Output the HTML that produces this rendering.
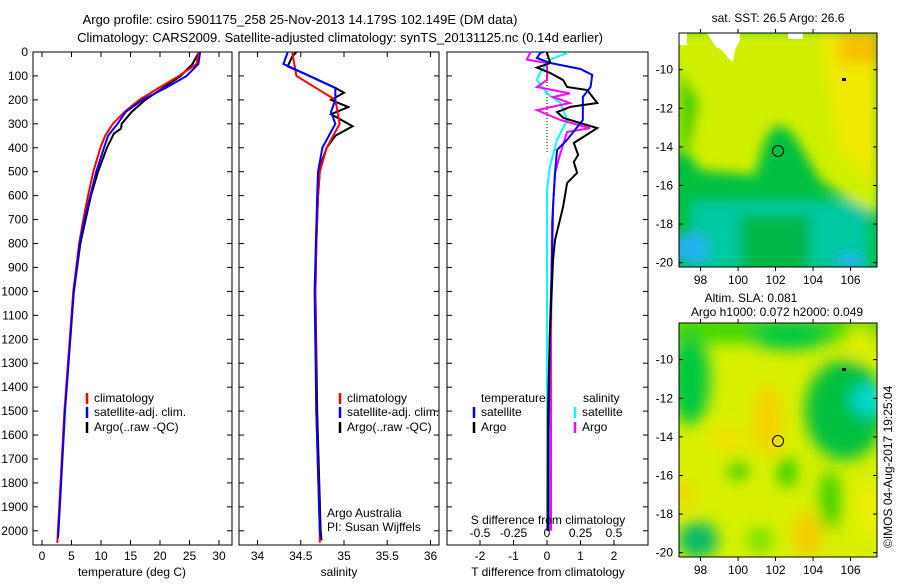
<!DOCTYPE html>
<html><head><meta charset="utf-8"><style>
body{margin:0;background:#fff;width:900px;height:580px;overflow:hidden}
svg{font-family:"Liberation Sans",sans-serif;font-size:12px}
</style></head><body>
<svg id="fig" width="900" height="580" viewBox="0 0 900 580">
<defs>
<filter id="bl" x="-20%" y="-20%" width="140%" height="140%"><feGaussianBlur stdDeviation="6"/></filter>
<filter id="bl2" x="-20%" y="-20%" width="140%" height="140%"><feGaussianBlur stdDeviation="8"/></filter>
<clipPath id="c1"><rect x="679" y="33" width="198" height="234"/></clipPath>
<clipPath id="c2"><rect x="679" y="323" width="198" height="234"/></clipPath>
</defs>
<text x="300" y="24" text-anchor="middle" font-size="13">Argo profile: csiro 5901175_258 25-Nov-2013 14.179S 102.149E (DM data)</text>
<text x="340" y="42" text-anchor="middle" font-size="13">Climatology: CARS2009. Satellite-adjusted climatology: synTS_20131125.nc (0.14d earlier)</text>

<!-- top map -->
<g clip-path="url(#c1)">
<rect x="679" y="33" width="198" height="234" fill="#00c040"/>
<g filter="url(#bl)">
<rect x="690" y="200" width="180" height="70" fill="#00c8a0"/>
<rect x="740" y="215" width="70" height="55" fill="#00b848"/>
<ellipse cx="690" cy="248" rx="20" ry="16" fill="#20b0f0"/>
<ellipse cx="850" cy="262" rx="15" ry="8" fill="#20b0f0"/>
<polygon points="670,30 880,30 880,215 850,200 820,180 800,145 790,130 775,125 765,140 755,175 700,170 690,155 670,150" fill="#d0f000"/>
<polygon points="820,30 880,30 880,190 840,150 830,90" fill="#f0e800"/>
<rect x="840" y="33" width="40" height="30" fill="#f8c000"/>
<polygon points="679,70 700,100 690,150 679,150" fill="#30d000"/>
</g>
<rect x="679" y="33" width="8" height="12" fill="#fff"/>
<polygon points="707,33 740,33 740,40 735,50 733,62 728,58 722,50 716,47" fill="#fff"/>
<rect x="788" y="33" width="15" height="6" fill="#fff"/>
</g>
<rect x="679" y="33" width="198" height="234" fill="none" stroke="#000"/>
<circle cx="778" cy="151" r="5.5" fill="none" stroke="#000"/>
<rect x="842" y="78" width="4" height="3" fill="#000"/>
<text x="778" y="22" text-anchor="middle">sat. SST: 26.5 Argo: 26.6</text>

<!-- bottom map -->
<g clip-path="url(#c2)">
<rect x="679" y="323" width="198" height="234" fill="#d8f000"/>
<g filter="url(#bl2)">
<rect x="670" y="315" width="220" height="28" fill="#40d800"/>
<ellipse cx="690" cy="380" rx="20" ry="45" fill="#00c840"/>
<ellipse cx="790" cy="335" rx="40" ry="15" fill="#00c840"/>
<ellipse cx="845" cy="410" rx="40" ry="50" fill="#00c040"/>
<ellipse cx="860" cy="340" rx="15" ry="14" fill="#e0f000"/>
<ellipse cx="868" cy="400" rx="16" ry="16" fill="#00d8d8"/>
<ellipse cx="768" cy="420" rx="14" ry="35" fill="#f8d000"/>
<ellipse cx="730" cy="440" rx="20" ry="12" fill="#f0e000"/>
<ellipse cx="808" cy="535" rx="14" ry="22" fill="#f8c800"/>
<ellipse cx="684" cy="495" rx="10" ry="15" fill="#f0d800"/>
<ellipse cx="870" cy="510" rx="10" ry="25" fill="#f0f000"/>
<ellipse cx="698" cy="540" rx="20" ry="18" fill="#00b870"/>
<ellipse cx="738" cy="470" rx="9" ry="9" fill="#00c800"/>
<ellipse cx="787" cy="472" rx="8" ry="15" fill="#00c800"/>
<ellipse cx="830" cy="500" rx="10" ry="30" fill="#30d000"/>
<ellipse cx="760" cy="540" rx="12" ry="12" fill="#60e000"/>
</g>
</g>
<rect x="679" y="323" width="198" height="234" fill="none" stroke="#000"/>
<circle cx="778" cy="441" r="5.5" fill="none" stroke="#000"/>
<rect x="842" y="368" width="4" height="3" fill="#000"/>
<text x="751" y="302" text-anchor="middle">Altim. SLA: 0.081</text>
<text x="777" y="316" text-anchor="middle">Argo h1000: 0.072 h2000: 0.049</text>
<text transform="translate(892,548) rotate(-90)">©IMOS 04-Aug-2017 19:25:04</text>

<g id="plots"></g>
</svg>
<script>
// ---- data ----
const depthTicks=[0,100,200,300,400,500,600,700,800,900,1000,1100,1200,1300,1400,1500,1600,1700,1800,1900,2000];
const tempTicks=[0,5,10,15,20,25,30];
const salTicks=[34,34.5,35,35.5,36];
const salTickLabels=["34","34.5","35","35.5","36"];
const tdTicks=[-2,-1,0,1,2];
const sdTicks=[-0.5,-0.25,0,0.25,0.5];
const sdTickLabels=["-0.5","-0.25","0","0.25","0.5"];
const latTicks=[-10,-12,-14,-16,-18,-20];
const lonTicks=[98,100,102,104,106];

const tClimDepth=[0,50,100,150,200,250,300,350,400,500,600,700,800,1000,1500,2000,2050];
const tClim=[26.5,26.2,23.2,19.8,16.5,14.0,12.0,10.7,9.9,8.7,7.8,7.0,6.3,5.3,3.8,2.7,2.6];
const tSatDepth=[0,50,100,150,200,250,300,350,400,500,600,700,800,1000,1500,2000,2030];
const tSat=[26.8,26.5,24.5,21,17,14.2,12.8,11.2,10.5,9.2,8.2,7.2,6.4,5.4,3.9,2.8,2.7];
const tArgoDepth=[0,50,100,150,200,250,300,320,340,400,500,600,700,800,1000];
const tArgo=[26.6,25.5,23.5,20.5,17.5,15.2,13.5,13.4,12.2,11.0,9.5,8.3,7.4,6.5,5.4];

const sClimDepth=[0,100,200,300,400,500,600,800,1000,1500,2000,2050];
const sClim=[34.4,34.45,34.9,34.95,34.8,34.72,34.7,34.68,34.67,34.68,34.72,34.72];
const sSatDepth=[0,50,100,150,200,250,300,400,500,600,1000,1500,2000,2030];
const sSat=[34.35,34.3,34.6,34.9,34.9,34.85,34.9,34.75,34.7,34.69,34.66,34.68,34.72,34.73];
const sArgoDepth=[0,20,60,100,150,170,200,230,260,310,350,400,450,500,600,800,1000,1500,2000,2040];
const sArgo=[34.45,34.4,34.35,34.6,34.9,35.0,34.85,35.05,34.85,35.1,34.9,34.8,34.75,34.72,34.7,34.68,34.67,34.69,34.73,34.74];

const tdSatDepth=[0,4,25,46,71,96,146,188,229,284,367,409,505,647,855,1200,1600,2000];
const tdSat=[-0.1,-0.2,-0.3,0.1,1.0,1.35,1.3,1.07,1.07,1.07,0.6,0.3,0.24,0.18,0.15,0.08,0.05,0.05];
const tdArgoDepth=[0,4,46,65,88,117,146,159,213,229,251,276,318,380,430,459,505,547,647,785,869,1200,1500,2000];
const tdArgo=[0,0,0.1,-0.3,0.1,0.48,0.6,1.2,1.5,0.7,0.3,0.5,1.5,0.8,0.93,0.8,0.9,0.6,0.48,0.24,0.18,0.08,0.03,0.02];
const sdSatDepth=[0,4,32,88,117,173,213,284,367,478,575,717,1200,2000];
const sdSat=[0.15,0.15,0.022,-0.052,-0.075,0,0.1,0.15,0.075,0.022,0,0,0,0];
const sdArgoDepth=[0,4,32,46,117,146,173,188,213,243,284,318,334,423,505,717,1200,2000];
const sdArgo=[-0.12,-0.127,-0.15,0,0,-0.075,0.17,0.045,0.17,-0.075,0.1,0.32,0.15,0.1,0.06,0.037,0.03,0.03];

// ---- geometry ----
const NS='http://www.w3.org/2000/svg';
const G=document.getElementById('plots');
const yTop=52, pxPer100=23.94, yBot=545;
const yD=d=>yTop+d/100*pxPer100;
const xT=t=>42+t*5.9;
const xS=s=>257.5+(s-34)*86.5;
const xTD=v=>547+v*33.5;
const xSD=v=>547+v*134;
const yLat1=l=>33+(-8.1-l)*19.3;
const yLat2=l=>323+(-8.1-l)*19.3;
const xLon=l=>679+(l-96.85)*18.75;

function el(tag,attrs,parent){const e=document.createElementNS(NS,tag);for(const k in attrs)e.setAttribute(k,attrs[k]);(parent||G).appendChild(e);return e;}
function txt(x,y,s,anchor,parent){const t=el('text',{x:x,y:y,'text-anchor':anchor||'middle'},parent);t.textContent=s;return t;}

function panel(x0,x1,name){
  const r=el('rect',{x:x0,y:yTop,width:x1-x0,height:yBot-yTop,fill:'none',stroke:'#000'});
  
  
  depthTicks.forEach(d=>{
    el('line',{x1:x0,x2:x0+5,y1:yD(d),y2:yD(d),stroke:'#000'});
    el('line',{x1:x1-5,x2:x1,y1:yD(d),y2:yD(d),stroke:'#000'});
  });
}
function xticks(vals,labels,fx,y,name){
  vals.forEach((v,i)=>{
    el('line',{x1:fx(v),x2:fx(v),y1:yBot-5,y2:yBot,stroke:'#000'});
    el('line',{x1:fx(v),x2:fx(v),y1:yTop,y2:yTop+5,stroke:'#000'});
    const t=txt(fx(v),y,labels[i]);
    
    
  });
}
function line(ds,vs,fx,color,name,w){
  const p=el('polyline',{points:ds.map((d,i)=>fx(vs[i])+','+yD(d)).join(' '),fill:'none',stroke:color,'stroke-width':w||2});
  
  
}

// panel 1
panel(33,232,'temperature-panel');
depthTicks.forEach(d=>{const t=txt(28,yD(d)+4,String(d),'end');});
xticks(tempTicks,tempTicks.map(String),xT,560,'temperature');
let t1=txt(132,576,'temperature (deg C)');
line(tArgoDepth,tArgo,xT,'#000','temp-argo-line');
line(tClimDepth,tClim,xT,'#f00','temp-climatology-line');
line(tSatDepth,tSat,xT,'#00f','temp-satellite-line');

// panel 2
panel(239,439,'salinity-panel');
xticks(salTicks,salTickLabels,xS,560,'salinity');
let t2=txt(339,576,'salinity');
line(sArgoDepth,sArgo,xS,'#000','sal-argo-line');
line(sClimDepth,sClim,xS,'#f00','sal-climatology-line');
line(sSatDepth,sSat,xS,'#00f','sal-satellite-line');
let a1=txt(327,517,'Argo Australia','start');
let a2=txt(327,531,'PI: Susan Wijffels','start');

// panel 3
panel(447,648,'difference-panel');
el('line',{x1:547,x2:547,y1:yTop,y2:yD(420),stroke:'#000','stroke-dasharray':'1,2'});
line(sdSatDepth,sdSat,xSD,'#0ff','sdiff-satellite-line');
line(sdArgoDepth,sdArgo,xSD,'#f0f','sdiff-argo-line');
line(tdSatDepth,tdSat,xTD,'#00f','tdiff-satellite-line');
line(tdArgoDepth,tdArgo,xTD,'#000','tdiff-argo-line');
tdTicks.forEach(v=>{el('line',{x1:xTD(v),x2:xTD(v),y1:yBot-5,y2:yBot,stroke:'#000'});const t=txt(xTD(v),560,String(v));});
sdTicks.forEach((v,i)=>{el('line',{x1:xSD(v),x2:xSD(v),y1:yBot-5,y2:yBot,stroke:'#000'});const t=txt(xSD(v),537,sdTickLabels[i]);});
let t3=txt(548,524,'S difference from climatology');
let t4=txt(548,576,'T difference from climatology');

// legends
function leg(x,y,color,label,name){
  el('line',{x1:x,x2:x,y1:y-9,y2:y+2,stroke:color,'stroke-width':2.5});
  const t=txt(x+7,y,label,'start');
  
  
}
leg(87,402,'#f00','climatology','temp-legend-climatology');
leg(87,416,'#00f','satellite-adj. clim.','temp-legend-satellite');
leg(87,431,'#000','Argo(..raw -QC)','temp-legend-argo');
leg(340,402,'#f00','climatology','sal-legend-climatology');
leg(340,416,'#00f','satellite-adj. clim.','sal-legend-satellite');
leg(340,431,'#000','Argo(..raw -QC)','sal-legend-argo');
let lt=txt(481,402,'temperature','start');
let ls=txt(583,402,'salinity','start');
leg(474,416,'#00f','satellite','diff-legend-t-satellite');
leg(474,431,'#000','Argo','diff-legend-t-argo');
leg(575,416,'#0ff','satellite','diff-legend-s-satellite');
leg(575,431,'#f0f','Argo','diff-legend-s-argo');

// map ticks
[[yLat1,267],[yLat2,557]].forEach(([fy,bot],mi)=>{
  latTicks.forEach(l=>{
    el('line',{x1:679,x2:683,y1:fy(l),y2:fy(l),stroke:'#000'});
    el('line',{x1:873,x2:877,y1:fy(l),y2:fy(l),stroke:'#000'});
    const t=txt(673,fy(l)+4,String(l),'end');
    
    
  });
  lonTicks.forEach(l=>{
    el('line',{x1:xLon(l),x2:xLon(l),y1:bot,y2:bot+4,stroke:'#000'});
    el('line',{x1:xLon(l),x2:xLon(l),y1:bot-234,y2:bot-238,stroke:'#000'});
    const t=txt(xLon(l),bot+17,String(l));
    
    
  });
});
</script>
</body></html>
